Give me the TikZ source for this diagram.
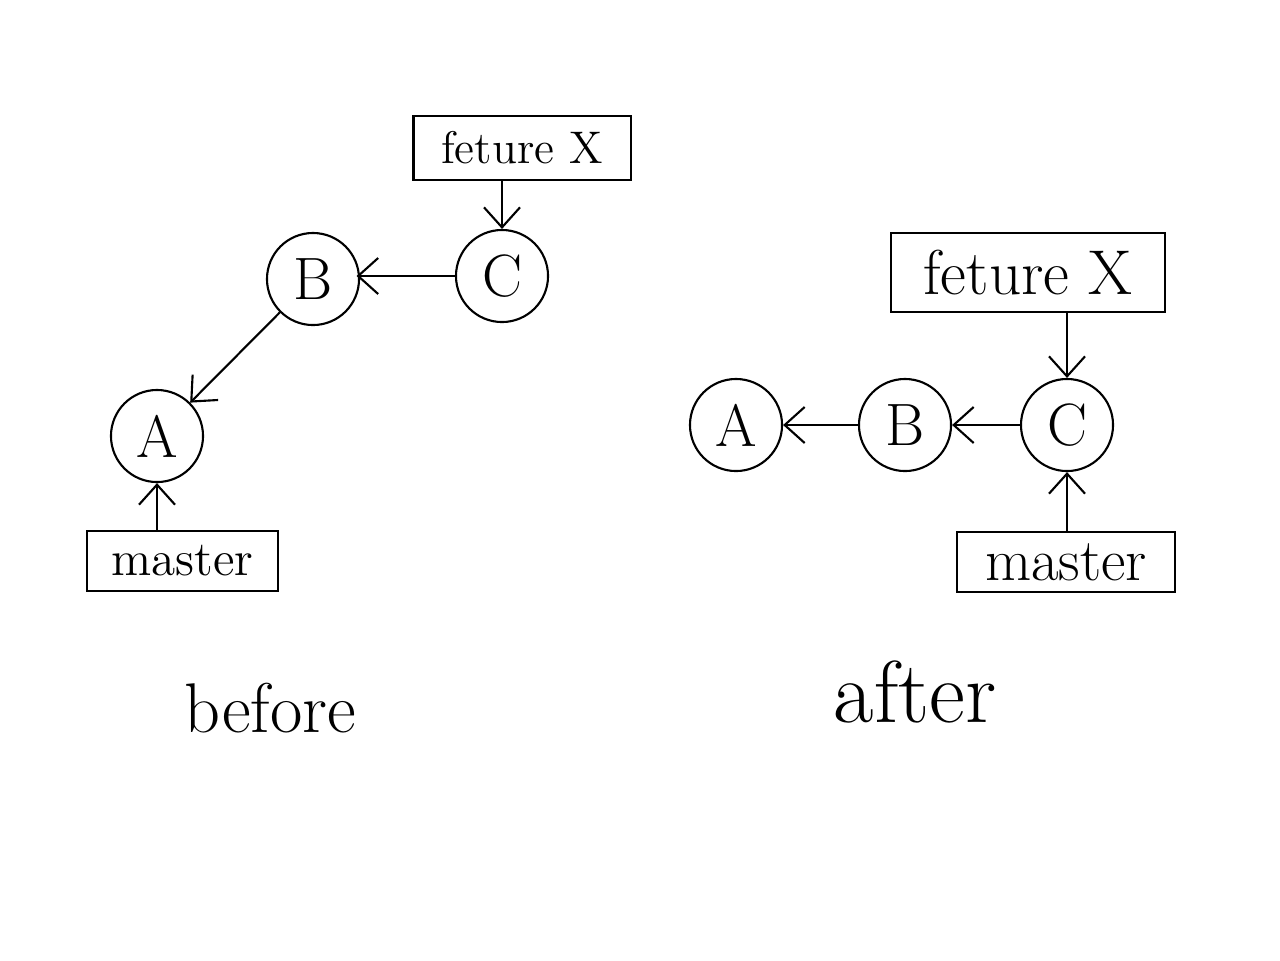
\documentclass[tikz,border=0pt]{standalone}
\usetikzlibrary{arrows.meta}
\begin{document}
\begin{tikzpicture}[x=0.01cm,y=-0.01cm,
  commit/.style={draw, circle, line width=0.6pt, minimum size=0.92cm, inner sep=0pt, font=\fontsize{17}{20}\selectfont},
  tagbox/.style={draw, rectangle, line width=0.6pt, inner sep=0pt},
  link/.style={line width=0.6pt, -{Straight Barb[length=2mm,width=3.6mm]}},
  captext/.style={font=\fontsize{20}{24}\selectfont}]
\useasboundingbox (0,0) rectangle (1280,960);
% before
\node[tagbox, minimum width=2.17cm, minimum height=0.64cm, font=\fontsize{13}{16}\selectfont] (fx1) at (522,148) {feture X};
\node[commit] (c1) at (502,276) {C};
\node[commit] (b1) at (313,279) {B};
\node[commit] (a1) at (157,436) {A};
\node[tagbox, minimum width=1.91cm, minimum height=0.60cm, font=\fontsize{14}{17}\selectfont] (m1) at (182.5,561) {master};
\coordinate (c1w) at (c1.west);
\draw[link] (fx1.south -| c1) -- (c1.north);
\draw[link] (c1w) -- ([xshift=-1]b1.east |- c1w);
\draw[link] (b1) -- (a1);
\draw[link] (m1.north -| a1) -- (a1.south);
\node[captext] (before) at (270,708) {before};
% after
\node[tagbox, minimum width=2.74cm, minimum height=0.79cm, font=\fontsize{18}{21}\selectfont] (fx2) at (1028,272.5) {feture X};
\node[commit] (a2) at (736,425) {A};
\node[commit] (b2) at (905,425) {B};
\node[commit] (c2) at (1067,425) {C};
\node[tagbox, minimum width=2.18cm, minimum height=0.60cm, font=\fontsize{17}{20}\selectfont] (m2) at (1066,562) {master};
\draw[link] (fx2.south -| c2) -- (c2.north);
\draw[link] (c2) -- (b2);
\draw[link] (b2) -- (a2);
\draw[link] (m2.north -| c2) -- (c2.south);
\node[captext, font=\fontsize{25}{30}\selectfont] (after) at (915,692) {after};
\end{tikzpicture}
\end{document}
